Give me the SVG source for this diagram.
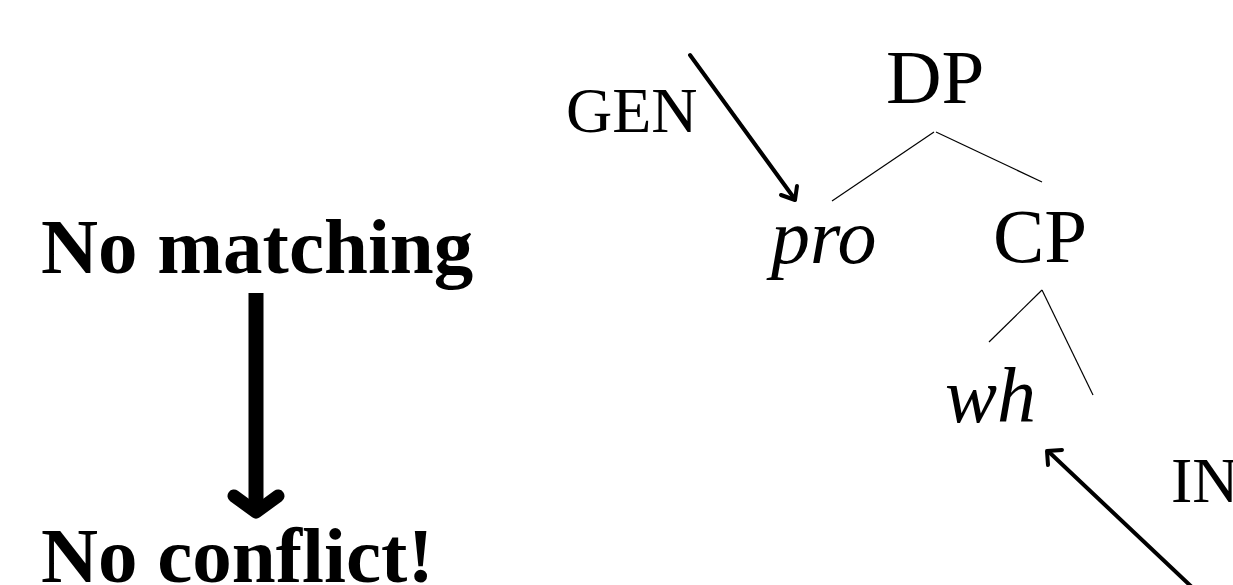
<svg xmlns="http://www.w3.org/2000/svg" width="1233" height="585" viewBox="0 0 1233 585">
<style>
.t{font-family:"Liberation Serif","Times New Roman",serif;fill:#000}
.b{font-weight:bold;font-size:79px}
.n{font-size:77px}
.i{font-style:italic;font-size:78px}
.s{font-size:64px}
.tree{stroke:#000;stroke-width:1.2;fill:none}
.arr{stroke:#000;stroke-width:4;fill:none;stroke-linecap:round;stroke-linejoin:round}
</style>
<rect width="1233" height="585" fill="#fff"/>
<g id="left">
<text class="t b" x="41" y="273">No matching</text>
<text class="t b" x="41" y="582">No conflict!</text>
</g>
<g id="bigarrow">
<line x1="256" y1="293" x2="256" y2="508" stroke="#000" stroke-width="15"/>
<polyline points="234,496 256,512 278,496" fill="none" stroke="#000" stroke-width="13" stroke-linecap="round" stroke-linejoin="round"/>
</g>
<g id="DP"><text class="t n" x="886" y="103">DP</text></g>
<g id="pro"><text class="t i" x="771" y="263">pro</text></g>
<g id="CP"><text class="t n" x="993" y="262">CP</text></g>
<g id="wh"><text class="t i" x="945" y="422">wh</text></g>
<g id="GEN"><text class="t s" x="566" y="132">GEN</text></g>
<g id="IN"><text class="t s" x="1171" y="502">IN</text></g>
<g id="connectors">
<line class="tree" x1="832" y1="201" x2="934" y2="132"/>
<line class="tree" x1="936" y1="132" x2="1042" y2="182"/>
<line class="tree" x1="989" y1="342" x2="1042" y2="290"/>
<line class="tree" x1="1042" y1="290" x2="1093" y2="395"/>
<line class="arr" x1="690" y1="55" x2="794" y2="198"/>
<polyline class="arr" points="781,195 795,200 797,186"/>
<line class="arr" x1="1195" y1="590" x2="1049" y2="452"/>
<polyline class="arr" points="1062,450 1047,451 1048,465"/>
</g>
</svg>
